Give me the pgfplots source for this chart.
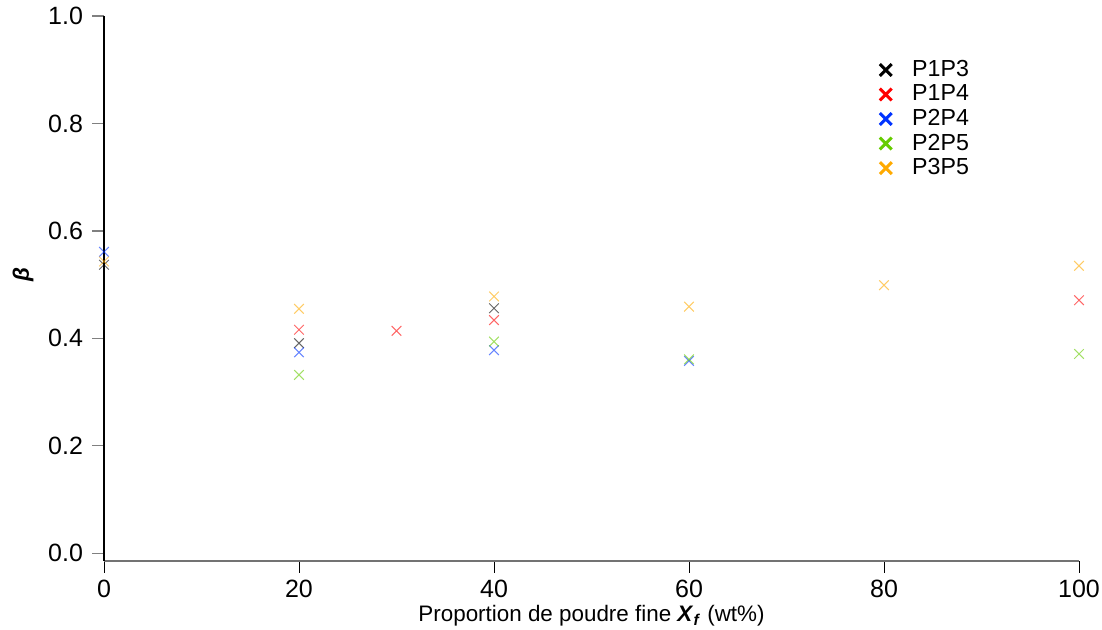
\documentclass[border=0pt]{standalone}
\usepackage{pgfplots}
\pgfplotsset{compat=1.18}
\usepackage{fontspec}
\setmainfont{Liberation Sans}
\definecolor{cA}{HTML}{000000}
\definecolor{cB}{HTML}{FF0000}
\definecolor{cC}{HTML}{0033FF}
\definecolor{cD}{HTML}{66CC00}
\definecolor{cE}{HTML}{FFAA00}
\pgfplotstableread{
x y
0 0.537
20 0.391
40 0.456
}\PonePthree
\pgfplotstableread{
x y
20 0.416
30 0.414
40 0.434
100 0.471
}\PonePfour
\pgfplotstableread{
x y
0 0.561
20 0.374
40 0.378
60 0.358
}\PtwoPfour
\pgfplotstableread{
x y
20 0.332
40 0.394
60 0.361
100 0.371
}\PtwoPfive
\pgfplotstableread{
x y
0 0.543
20 0.455
40 0.478
60 0.459
80 0.499
100 0.535
}\PthreePfive
\begin{document}
\begin{tikzpicture}
\useasboundingbox (0,0) rectangle (551pt,315pt);
\begin{axis}[
  at={(52pt,34.65pt)}, anchor=south west,
  scale only axis, width=487.5pt, height=272.35pt,
  xmin=0, xmax=100, ymin=-0.0138, ymax=1.0,
  axis x line*=bottom, axis y line*=left,
  x axis line style={draw=gray!90!black, line width=0.9pt, -},
  y axis line style={draw=black, line width=0.6pt, -},
  xtick={0,20,...,100}, ytick={0,0.2,...,1.0},
  yticklabel style={/pgf/number format/fixed, /pgf/number format/fixed zerofill, /pgf/number format/precision=1},
  /pgf/number format/assume math mode=true,
  tick align=outside, major tick length=6pt,
  xtick style={draw=black, line width=0.5pt},
  ytick style={draw=gray, line width=0.6pt},
  tick label style={font=\fontsize{12.5}{14}\selectfont},
  xticklabel style={yshift=0pt},
  yticklabel style={xshift=-1pt},
  xlabel={Proportion de poudre fine \textbf{\textit{X}}\textsubscript{\textbf{\textit{f}}} (wt\%)},
  ylabel={\textbf{\textit{β}}},
  label style={font=\fontsize{11.2}{13}\selectfont},
  xlabel style={at={(axis description cs:0.5,-0.101)}, anchor=center},
  ylabel style={at={(axis description cs:-0.083,0.525)}, anchor=center, rotate=0},
  legend style={draw=none, fill=none, at={(axis cs:78.87,0.92)}, anchor=north west,
    font=\fontsize{11.6}{13}\selectfont, row sep=1.7pt, inner sep=0pt,
    nodes={inner xsep=1pt, inner ysep=0.5pt}},
  legend cell align=left,
  legend image code/.code={\path (0pt,0pt) (18pt,0pt); \draw[#1] plot coordinates {(6pt,0pt)};},
  clip=false,
  every axis plot/.append style={only marks, mark=x, mark size=3.4pt, mark options={line width=0.5pt, opacity=0.6}},
]
\addplot[cA, forget plot] table {\PonePthree};
\addplot[cB, forget plot] table {\PonePfour};
\addplot[cC, forget plot] table {\PtwoPfour};
\addplot[cD, forget plot] table {\PtwoPfive};
\addplot[cE, forget plot] table {\PthreePfive};
\addlegendimage{only marks, mark=x, cA, mark size=4.2pt, mark options={line width=1.5pt, opacity=1}}
\addlegendentry{P1P3}
\addlegendimage{only marks, mark=x, cB, mark size=4.2pt, mark options={line width=1.5pt, opacity=1}}
\addlegendentry{P1P4}
\addlegendimage{only marks, mark=x, cC, mark size=4.2pt, mark options={line width=1.5pt, opacity=1}}
\addlegendentry{P2P4}
\addlegendimage{only marks, mark=x, cD, mark size=4.2pt, mark options={line width=1.5pt, opacity=1}}
\addlegendentry{P2P5}
\addlegendimage{only marks, mark=x, cE, mark size=4.2pt, mark options={line width=1.5pt, opacity=1}}
\addlegendentry{P3P5}
\end{axis}
\end{tikzpicture}
\end{document}
